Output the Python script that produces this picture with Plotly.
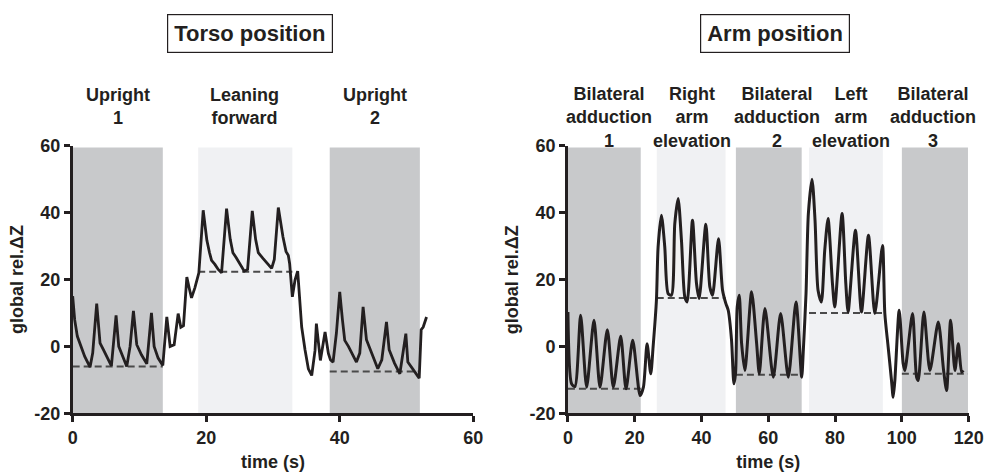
import plotly.graph_objects as go

# ---------------- data ----------------
# Torso position trace (time s, global rel. dZ)
torso_t = [0, 0.3, 0.7, 1.2, 1.8, 2.6, 3.0, 3.6, 4.1, 4.6, 5.2, 5.8, 6.5, 6.9, 7.4, 8.1, 8.6, 9.1,
           9.6, 10.3, 11.1, 11.8, 12.2, 12.8, 13.5, 14.1, 14.6, 15.2, 15.8, 16.2, 16.6, 16.9, 17.1,
           17.5, 17.8, 18.3, 18.9, 19.55, 20.1, 20.5, 20.8, 21.3, 21.8, 22.3, 23.05, 23.6, 24.0,
           24.5, 25.2, 25.7, 26.2, 26.9, 27.4, 27.8, 28.5, 29.2, 29.8, 30.2, 30.8, 31.5, 31.95,
           32.3, 32.5, 32.9, 33.3, 33.7, 34.1, 34.3, 34.8, 35.3, 35.8, 36.3, 36.5, 37.1, 37.8,
           38.3, 38.6, 39.0, 39.5, 40.0, 40.4, 40.75, 41.3, 41.8, 42.5, 43.0, 43.5, 44.0, 44.6,
           45.2, 45.7, 46.3, 47.0, 47.4, 48.2, 49.0, 49.9, 50.2, 50.8, 51.5, 51.9, 52.2, 52.5, 53.0]
torso_v = [15, 8, 3, 0, -3, -6.2, -2, 12.8, 1, -1, -3.5, -5.8, 9.3, 0, -2.5, -6, 0, 10.6,
           0.5, -2.5, -5.2, 10, 0, -3.5, -5.7, 8.8, 0, 0.5, 9.8, 5.7, 6.2, 14, 20.7,
           17, 14.5, 17.5, 22, 40.7, 31.7, 28, 25.7, 24.5, 23, 22, 41.2, 32, 28,
           26.5, 24, 22.5, 23, 40.5, 32, 28, 26.3, 24.5, 23.3, 26, 41.5, 32.7, 28.4,
           27.2, 24.7, 14.8, 19.8, 22.5, 10.8, 5.8, -1, -6.7, -8.7, -1.2, 6.8, -4.2, 4.3,
           -2.1, -4, -4.7, 4, 16.3, 8, 1.8, 0, -2, -4.7, -2, 11.8, 2, -1,
           -4, -6.7, -4, 7.3, -1, -5, -8.2, 3.8, -4.7, -6.5, -8.7, -9.5, 5, 5.8, 8.8]

# Arm position trace
arm_t = [0, 1.1, 2.1, 3.8, 5.6, 7.8, 9.6, 11.8, 13.6, 15.8, 17.4, 19.4, 21.6, 22.6, 23.7, 24.8,
         25.5, 26.5, 27.0, 28, 29, 30, 31, 32, 33, 34, 35, 35.7, 37.3, 38.5, 39.3, 41.3, 42.5,
         43.3, 45.1, 46.3, 47.3, 48, 49, 49.7, 50.2, 50.7, 51.3, 52, 53, 55, 56.5, 57.3, 59,
         61.5, 63.7, 66, 68.3, 70, 70.5, 71.3, 72, 73.1, 74, 74.9, 75.9, 76.9, 77.9, 79.2, 79.9,
         82.1, 83.2, 83.9, 86.1, 87.9, 90, 91.9, 94.2, 94.9, 95.9, 96.9, 97.4, 97.9, 99.2, 100.4,
         100.9, 103.2, 104.4, 104.9, 106.6, 108.4, 110.9, 112.5, 113.4, 114.6, 115.9, 116.9,
         117.9, 118.4]
arm_v = [10.3, -11.2, -12, 9.3, -12.2, 7.8, -12.2, 5, -12.2, 3, -12.7, 1.8, -14.7, -12.2, 0.8, -8.2,
         -0.2, 13.8, 29.7, 39.2, 29.7, 15.8, 15.3, 36.7, 44.2, 31.7, 14.8, 13.3, 37.7, 18.8, 14.3, 36.5, 17.8,
         15.3, 32.2, 16.8, 12.8, 10.8, 1.8, -11.2, -8, 11.8, 15.3, 1, -7.2, 16.3, 1, -8.2, 11.3,
         -9.2, 9.8, -9.2, 13.3, -9.2, -1, 15.8, 39.7, 50, 37.7, 16.8, 13.3, 28.7, 38.2, 19, 11.8,
         39.7, 19, 10.3, 34.7, 10.3, 33.2, 9.8, 30.2, 9.8, -0.2, -10.2, -15.2, -10.2, 10.8, -5.2,
         -7.2, 9.8, -9.2, -10.2, 10.3, -7.2, 7.3, -7.2, -13.2, 7.8, -7.2, 0.8,
         -7.7, -7.2]

# Phases: labels, start, end, shade type, baseline level
torso_labels = ["Upright<br>1", "Leaning<br>forward", "Upright<br>2"]
torso_start = [0, 18.8, 38.5]
torso_end = [13.5, 32.9, 52.0]
torso_shade = ["dark", "light", "dark"]
torso_base = [-6, 22.3, -7.5]

arm_labels = ["Bilateral<br>adduction<br>1", "Right<br>arm<br>elevation", "Bilateral<br>adduction<br>2",
              "Left<br>arm<br>elevation", "Bilateral<br>adduction<br>3"]
arm_start = [0, 26.6, 50.3, 72.2, 100.0]
arm_end = [21.8, 47.2, 70.0, 94.3, 119.8]
arm_shade = ["dark", "light", "dark", "light", "dark"]
arm_base = [-12.7, 14.5, -8.5, 10.0, -8.2]

panel_titles = ["Torso position", "Arm position"]
y_title = "global rel.ΔZ"
x_title = "time (s)"
y_ticks = [-20, 0, 20, 40, 60]
torso_x_ticks = [0, 20, 40, 60]
arm_x_ticks = [0, 20, 40, 60, 80, 100, 120]

# ---------------- styling ----------------
FONT = "Liberation Sans, Arial, Helvetica, sans-serif"
INK = "#231f20"
SHADE = {"dark": "#c8c9cb", "light": "#f0f1f3"}

fig = go.Figure()
shapes = []
annotations = []

def add_panel(xa, ya, t, v, labels, starts, ends, shades, bases, label_x, label_y, width):
    for s, e, sh in zip(starts, ends, shades):
        shapes.append(dict(type="rect", xref=xa, yref=ya, x0=s, x1=e, y0=-20, y1=59.5,
                           fillcolor=SHADE[sh], line=dict(width=0), layer="below"))
    for s, e, b in zip(starts, ends, bases):
        fig.add_trace(go.Scatter(x=[s, e], y=[b, b], mode="lines", xaxis=xa, yaxis=ya,
                                 line=dict(color="#4a4a4a", width=2, dash="7px,4px"),
                                 showlegend=False, hoverinfo="skip"))
    fig.add_trace(go.Scatter(x=t, y=v, mode="lines", xaxis=xa, yaxis=ya,
                             line=dict(color=INK, width=width,
                                       shape="spline" if xa == "x2" else "linear",
                                       smoothing=0.7),
                             showlegend=False))
    for lab, lx in zip(labels, label_x):
        annotations.append(dict(text=lab, xref=xa, yref="paper", x=lx, y=label_y,
                                xanchor="center", yanchor="middle", showarrow=False,
                                font=dict(family=FONT, size=18, color=INK, weight="bold")))

add_panel("x", "y", torso_t, torso_v, torso_labels, torso_start, torso_end, torso_shade,
          torso_base, [6.8, 25.8, 45.3], 0.7754, 2.8)
add_panel("x2", "y2", arm_t, arm_v, arm_labels, arm_start, arm_end, arm_shade,
          arm_base, [12.4, 37.1, 62.6, 84.7, 109.3], 0.752, 3.0)

for title, cx in zip(panel_titles, [0.2535, 0.7857]):
    annotations.append(dict(text=title, xref="paper", yref="paper", x=cx, y=0.929,
                            xanchor="center", yanchor="middle", showarrow=False,
                            bordercolor=INK, borderwidth=1.2, borderpad=6,
                            font=dict(family=FONT, size=22, color=INK, weight="bold")))

ydom = [0.1244, 0.6913]
for yx in [0.0178, 0.5200]:
    annotations.append(dict(text=y_title, xref="paper", yref="paper", x=yx,
                            y=(ydom[0] + ydom[1]) / 2, textangle=-90,
                            xanchor="center", yanchor="middle", showarrow=False,
                            font=dict(family=FONT, size=18, color=INK, weight="bold")))

tickfont = dict(family=FONT, size=18, color=INK, weight="bold")
titlefont = dict(family=FONT, size=18, color=INK, weight="bold")

def axis(domain, rng, ticks, anchor, title):
    return dict(domain=domain, range=rng, tickmode="array", tickvals=ticks,
                ticktext=[str(k) for k in ticks], anchor=anchor, automargin=False,
                showline=True, linecolor=INK, linewidth=2.5, ticks="outside",
                ticklen=6, tickwidth=2.5, tickcolor=INK, showgrid=False, zeroline=False,
                tickfont=tickfont, title=dict(text=title, font=titlefont), fixedrange=True)

fig.update_layout(
    width=986, height=472, margin=dict(l=0, r=0, t=0, b=0),
    paper_bgcolor="white", plot_bgcolor="white",
    xaxis=axis([0.0737, 0.480], [0, 60], torso_x_ticks, "y", x_title),
    yaxis=axis(ydom, [-20, 60], y_ticks, "x", None),
    xaxis2=axis([0.576, 0.9824], [0, 120], arm_x_ticks, "y2", x_title),
    yaxis2=axis(ydom, [-20, 60], y_ticks, "x2", None),
    shapes=shapes, annotations=annotations,
)

fig.write_html("out.html")
